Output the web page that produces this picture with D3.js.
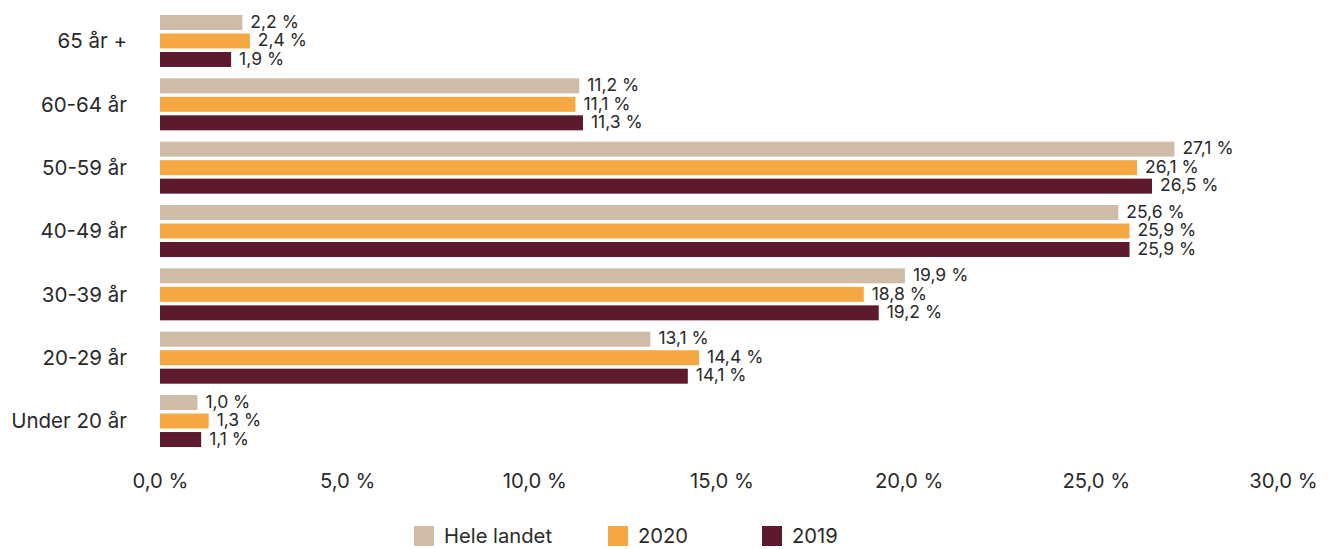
<!DOCTYPE html>
<html>
<head>
<meta charset="utf-8">
<script src="https://cdn.jsdelivr.net/npm/d3@7"></script>
<style>
  html, body { margin: 0; padding: 0; background: #fff; }
  svg text { font-family: Inter, "Noto Sans", sans-serif; fill: #2a2a2a; }
</style>
</head>
<body>
<svg id="chart" width="1334" height="549"></svg>
<script>
// Age groups, top to bottom
const categories = ["65 år +", "60-64 år", "50-59 år", "40-49 år", "30-39 år", "20-29 år", "Under 20 år"];
const seriesNames = ["Hele landet", "2020", "2019"];
const heleLandet = [2.2, 11.2, 27.1, 25.6, 19.9, 13.1, 1.0];
const y2020 = [2.4, 11.1, 26.1, 25.9, 18.8, 14.4, 1.3];
const y2019 = [1.9, 11.3, 26.5, 25.9, 19.2, 14.1, 1.1];
const tickValues = [0, 5, 10, 15, 20, 25, 30];
const colors = ["#cfbca8", "#f5a742", "#5e1a2d"];

const seriesValues = [heleLandet, y2020, y2019];
const fmt = v => d3.format(".1f")(v).replace(".", ",") + " %";

const svg = d3.select("#chart");

const x = d3.scaleLinear().domain([0, 30]).range([160, 1283]);
const y = d3.scaleBand().domain(categories).range([9.3, 452.7]).paddingInner(0.179).paddingOuter(0.0895);
const ySub = d3.scaleBand().domain(seriesNames).range([0, y.bandwidth()]).paddingInner(0.19);

const rows = categories.map((c, i) => ({
  cat: c,
  vals: seriesNames.map((s, j) => ({ series: s, value: seriesValues[j][i], color: colors[j] }))
}));

const g = svg.append("g").selectAll("g").data(rows).join("g")
  .attr("transform", d => `translate(0,${y(d.cat)})`);

g.selectAll("rect").data(d => d.vals).join("rect")
  .attr("x", x(0))
  .attr("y", d => ySub(d.series))
  .attr("width", d => x(d.value) - x(0))
  .attr("height", ySub.bandwidth())
  .attr("fill", d => d.color);

g.selectAll("text.val").data(d => d.vals).join("text")
  .attr("class", "val")
  .attr("x", d => x(d.value) + 8)
  .attr("y", d => ySub(d.series) + ySub.bandwidth() / 2 - 1)
  .attr("dy", "0.36em")
  .style("font-size", "17.5px")
  .text(d => fmt(d.value));

// Category labels
svg.append("g").selectAll("text").data(categories).join("text")
  .attr("x", 127)
  .attr("y", d => y(d) + y.bandwidth() / 2)
  .attr("dy", "0.36em")
  .attr("text-anchor", "end")
  .style("font-size", "20.5px")
  .text(d => d);

// X axis labels only, no line
const xAxis = d3.axisBottom(x).tickValues(tickValues).tickSize(0).tickPadding(0).tickFormat(fmt);
const ax = svg.append("g").attr("transform", "translate(0,474)").call(xAxis);
ax.select(".domain").remove();
ax.selectAll("text").style("font-size", "20.3px").attr("fill", "#2a2a2a").attr("dy", "0.71em")
  .style("font-family", "Inter, 'Noto Sans', sans-serif");

// Legend
const legendX = [414, 608, 762];
const lg = svg.append("g").selectAll("g").data(seriesNames).join("g")
  .attr("transform", (d, i) => `translate(${legendX[i]},526)`);
lg.append("rect").attr("width", 20).attr("height", 20).attr("fill", (d, i) => colors[i]);
lg.append("text").attr("x", 30).attr("y", 10).attr("dy", "0.36em").style("font-size", "20.2px").text(d => d);
</script>
</body>
</html>
